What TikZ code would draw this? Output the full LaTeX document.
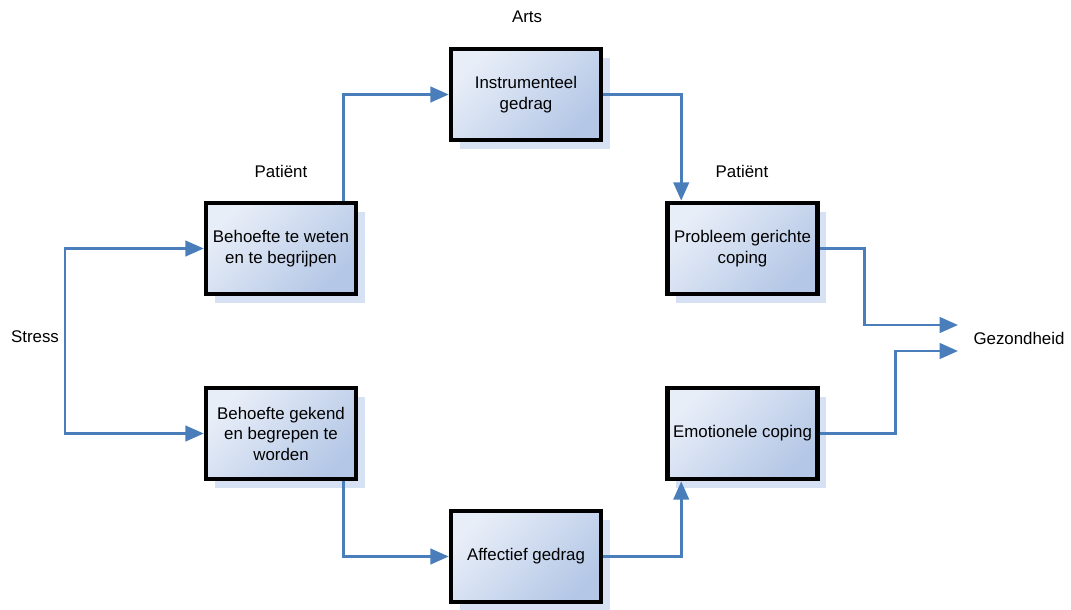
\documentclass[tikz,border=0pt]{standalone}
\usepackage{fontspec}
\setmainfont{Liberation Sans}
\usetikzlibrary{arrows.meta,shadows,calc,positioning}
\definecolor{linkblue}{RGB}{74,126,187}
\definecolor{boxlight}{RGB}{232,238,248}
\definecolor{boxdark}{RGB}{180,199,230}
\definecolor{shadowblue}{RGB}{214,225,243}
\begin{document}
\begin{tikzpicture}[x=0.025cm, y=-0.025cm,
    box/.style={draw=black, line width=3.2pt, top color=boxlight, bottom color=boxdark,
      shading angle=45, minimum width=3.75cm, minimum height=2.28cm, align=center,
      font=\fontsize{12}{14.6}\selectfont,
      drop shadow={shadow xshift=0.22cm, shadow yshift=-0.22cm, fill=shadowblue, opacity=1}},
    link/.style={draw=linkblue, line width=1.9pt, -{Triangle[length=13pt, width=11pt]}},
    lbl/.style={font=\fontsize{12}{14.6}\selectfont}]
    \useasboundingbox (0,0) rectangle (1071,610);
    % boxes
    \node[box] (weten) at (281,248.5) {Behoefte te weten\\en te begrijpen};
    \node[box] (gekend) at (281,433.5) {Behoefte gekend\\en begrepen te\\worden};
    \node[box] (instr) at (526,94.5) {Instrumenteel\\gedrag};
    \node[box] (affectief) at (526,556.5) {Affectief gedrag};
    \node[box] (probleem) at (742.5,248.5) {Probleem gerichte\\coping};
    \node[box] (emotioneel) at (742.5,433.5) {Emotionele coping};
    % labels
    \node[lbl] (stress) at (35,337) {Stress};
    \node[lbl] (gezond) at (1019,338) {Gezondheid};
    \node[lbl] (arts) at (527,17) {Arts};
    \node[lbl] (patientL) at (281,171) {Patiënt};
    \node[lbl] (patientR) at (742,171) {Patiënt};
    \coordinate (split) at (65,341);
    \coordinate (gzin1) at (958,325);
    \coordinate (gzin2) at (958,351);
    % connectors
    \draw[link] (split) |- (weten.west);
    \draw[link] (split) |- (gekend.west);
    \draw[link] ($(weten.north east)+(-15,0)$) |- (instr.west);
    \draw[link] (instr.east) -| ($(probleem.north west)+(16,0)$);
    \draw[link] ($(gekend.south east)+(-15,0)$) |- (affectief.west);
    \draw[link] (affectief.east) -| ($(emotioneel.south west)+(16,0)$);
    \draw[link] (probleem.east) -- ++(45,0) |- (gzin1);
    \draw[link] (emotioneel.east) -- ++(76,0) |- (gzin2);
\end{tikzpicture}
\end{document}
